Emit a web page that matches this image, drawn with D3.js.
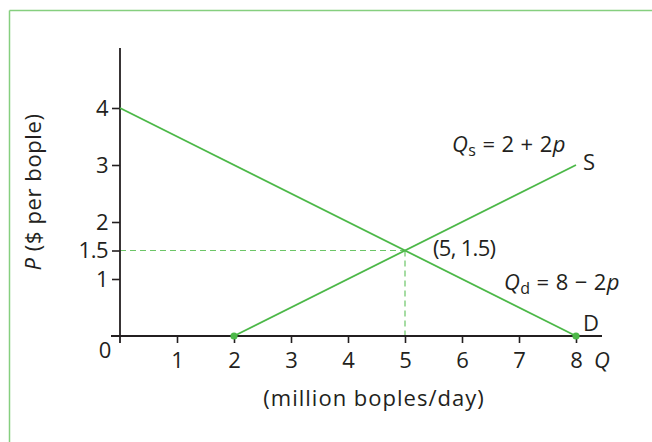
<!DOCTYPE html>
<html><head><meta charset="utf-8">
<script src="https://cdn.jsdelivr.net/npm/d3@7"></script>
<style>
html,body{margin:0;padding:0;background:#fff;}
svg{display:block;}
text{font-family:"Open Sans",sans-serif;fill:#231f20;}
</style></head>
<body>
<script>
// ---- data ----
const qTicks = [1, 2, 3, 4, 5, 6, 7, 8];
const pTicks = [1, 1.5, 2, 3, 4];
const supplyQ = [2, 8];
const supplyP = [0, 3];
const demandQ = [0, 8];
const demandP = [4, 0];
const eqQ = 5, eqP = 1.5;

const W = 652, H = 442;
const green = "#4cb848", frameGreen = "#86cf7f", ink = "#231f20";
const FONT = "'Open Sans', sans-serif";
const FS = 22;
const svg = d3.select("body").append("svg").attr("width", W).attr("height", H);

// frame
svg.append("line").attr("x1", 9.5).attr("y1", 10.5).attr("x2", W).attr("y2", 10.5)
  .attr("stroke", frameGreen).attr("stroke-width", 1.5);
svg.append("line").attr("x1", 9.5).attr("y1", 10.5).attr("x2", 9.5).attr("y2", H)
  .attr("stroke", frameGreen).attr("stroke-width", 1.5);

const x = d3.scaleLinear().domain([0, 8]).range([120, 576]);
const y = d3.scaleLinear().domain([0, 4]).range([336, 108]);

// dashed guides
svg.append("line").attr("x1", x(0)).attr("x2", x(eqQ)).attr("y1", y(eqP)).attr("y2", y(eqP))
  .attr("stroke", "#6cc567").attr("stroke-width", 1.2).attr("stroke-dasharray", "6,4");
svg.append("line").attr("x1", x(eqQ)).attr("x2", x(eqQ)).attr("y1", y(eqP)).attr("y2", y(0))
  .attr("stroke", "#6cc567").attr("stroke-width", 1.2).attr("stroke-dasharray", "6,4");

// axes
const xAxis = svg.append("g").attr("transform", `translate(0,${y(0)})`)
  .call(d3.axisBottom(x).tickValues(qTicks).tickSize(7).tickPadding(9).tickSizeOuter(0));
xAxis.select(".domain").remove();
xAxis.selectAll("line").attr("stroke", ink).attr("stroke-width", 1.6);
xAxis.selectAll("text").attr("font-size", FS).attr("fill", ink).attr("font-family", FONT);

const yAxis = svg.append("g").attr("transform", `translate(${x(0)},0)`)
  .call(d3.axisLeft(y).tickValues(pTicks).tickSize(8).tickPadding(4).tickFormat(d3.format("")).tickSizeOuter(0));
yAxis.select(".domain").remove();
yAxis.selectAll("line").attr("stroke", ink).attr("stroke-width", 1.6);
yAxis.selectAll("text").attr("font-size", FS).attr("fill", ink).attr("font-family", FONT)
  .attr("letter-spacing", -0.5);

// axis lines
svg.append("line").attr("x1", x(0) - 9).attr("x2", x(8) + 26).attr("y1", y(0)).attr("y2", y(0))
  .attr("stroke", ink).attr("stroke-width", 1.8);
svg.append("line").attr("x1", x(0)).attr("x2", x(0)).attr("y1", y(0) + 7).attr("y2", y(4) - 60)
  .attr("stroke", ink).attr("stroke-width", 1.8);

// origin label
svg.append("text").attr("x", x(0) - 15).attr("y", y(0) + 22).attr("text-anchor", "middle")
  .attr("font-size", FS).text("0");

// curves
const line = d3.line().x(d => x(d[0])).y(d => y(d[1]));
svg.append("path").datum(demandQ.map((q, i) => [q, demandP[i]])).attr("d", line)
  .attr("fill", "none").attr("stroke", green).attr("stroke-width", 1.8);
svg.append("path").datum(supplyQ.map((q, i) => [q, supplyP[i]])).attr("d", line)
  .attr("fill", "none").attr("stroke", green).attr("stroke-width", 1.8);

// dots at axis intercepts
svg.selectAll("circle.dot").data([[supplyQ[0], supplyP[0]], [demandQ[1], demandP[1]]]).enter()
  .append("circle").attr("cx", d => x(d[0])).attr("cy", d => y(d[1])).attr("r", 3.6).attr("fill", green);

// labels
function eq(xp, yp, sub, rest) {
  const t = svg.append("text").attr("x", xp).attr("y", yp).attr("font-size", FS)
    .attr("letter-spacing", 0.4);
  t.append("tspan").attr("font-style", "italic").text("Q");
  t.append("tspan").attr("font-size", 16).attr("dy", 4).text(sub);
  t.append("tspan").attr("dy", -4).text(rest);
  t.append("tspan").attr("font-style", "italic").text("p");
}
eq(452, 152, "s", " = 2 + 2");
eq(504, 290, "d", " = 8 − 2");
svg.append("text").attr("x", 583).attr("y", 170).attr("font-size", 22).text("S");
svg.append("text").attr("x", 583).attr("y", 331).attr("font-size", 22).text("D");
svg.append("text").attr("x", 433).attr("y", 256).attr("font-size", FS).attr("letter-spacing", -0.7)
  .text("(5, 1.5)");
svg.append("text").attr("x", 594).attr("y", 368).attr("font-size", 22).attr("font-style", "italic").text("Q");

// axis titles
svg.append("text").attr("x", 374).attr("y", 406).attr("text-anchor", "middle").attr("font-size", FS)
  .attr("letter-spacing", 1.0).text("(million boples/day)");
const yt = svg.append("text").attr("transform", `translate(41,${192}) rotate(-90)`)
  .attr("text-anchor", "middle").attr("font-size", FS).attr("letter-spacing", 0.6);
yt.append("tspan").attr("font-style", "italic").text("P");
yt.append("tspan").text(" ($ per bople)");
</script>
</body></html>
